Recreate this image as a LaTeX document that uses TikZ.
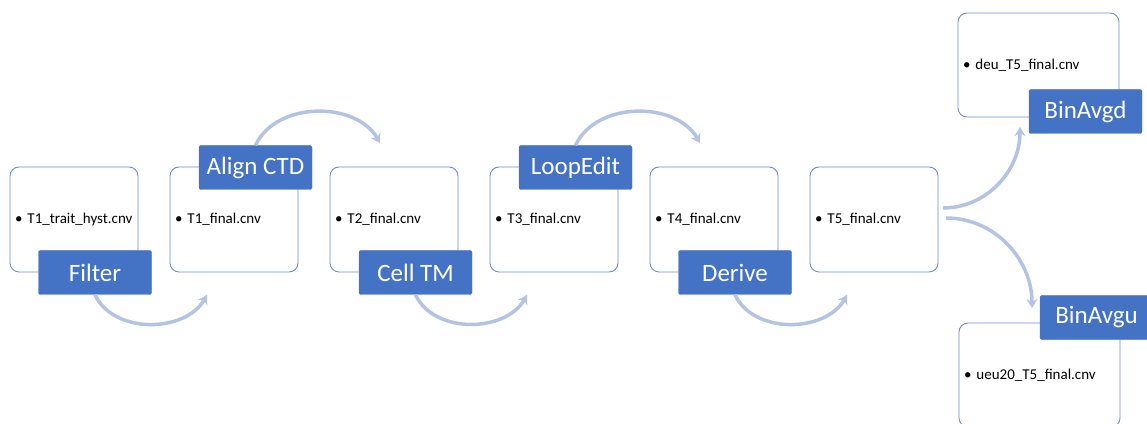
\documentclass[tikz,border=0pt]{standalone}
\usepackage{fontspec}
\setmainfont{Carlito}
\usetikzlibrary{arrows.meta}
\definecolor{stepBlue}{HTML}{4472C4}
\definecolor{boxLine}{RGB}{114,142,200}
\definecolor{flowGray}{RGB}{180,195,226}

\begin{document}
\begin{tikzpicture}[x=1pt, y=1pt,
	fileBox/.style={rectangle, draw=boxLine, line width=0.9pt, fill=white, rounded corners=9pt, minimum height=105pt, text width=118pt, inner xsep=5pt, align=left, font=\fontsize{15}{18}\selectfont},
	wideBox/.style={fileBox, minimum height=104pt, text width=151pt},
	stepLabel/.style={rectangle, draw=stepBlue, fill=stepBlue, rounded corners=2pt, minimum width=113pt, minimum height=44pt, inner sep=0pt, text=white, font=\fontsize{25}{30}\selectfont},
	flow/.style={draw=flowGray, line width=3.5pt, -{Stealth[length=9pt, width=11pt, inset=3pt]}}]
	\useasboundingbox (0,0) rectangle (1147,423);

	% file boxes along the row
	\node[fileBox](file1) at (74,203.5){\textbullet\ T1\_trait\_hyst.cnv};
	\node[fileBox](file2) at (234,203.5){\textbullet\ T1\_final.cnv};
	\node[fileBox](file3) at (394,203.5){\textbullet\ T2\_final.cnv};
	\node[fileBox](file4) at (554,203.5){\textbullet\ T3\_final.cnv};
	\node[fileBox](file5) at (714,203.5){\textbullet\ T4\_final.cnv};
	\node[fileBox](file6) at (874,203.5){\textbullet\ T5\_final.cnv};

	% split outputs
	\node[wideBox](fileD) at (1038.5,358){\textbullet\ deu\_T5\_final.cnv};
	\node[wideBox](fileU) at (1039.5,48){\textbullet\ ueu20\_T5\_final.cnv};

	% arrow ends
	\coordinate(in2) at (207,128);
	\coordinate(in3) at (380,280);
	\coordinate(in4) at (527,128);
	\coordinate(in5) at (700,280);
	\coordinate(in6) at (847,128);
	\coordinate(outD) at (943,215);
	\coordinate(outU) at (946,205);
	\coordinate(inD) at (1020,296);
	\coordinate(inU) at (1032,115);

	% step labels
	\node[stepLabel](filter) at (95,150.5){Filter};
	\node[stepLabel](alignCTD) at (255.5,255.5){Align CTD};
	\node[stepLabel](cellTM) at (415.5,150.5){Cell TM};
	\node[stepLabel](loopEdit) at (575.5,255.5){LoopEdit};
	\node[stepLabel](derive) at (735,150.5){Derive};
	\node[stepLabel](binAvgd) at (1085.5,311.5){BinAvgd};
	\node[stepLabel](binAvgu) at (1096.5,105.5){BinAvgu};

	% curved arrows
	\draw[flow] (filter.south) to[out=-65, in=-120] (in2);
	\draw[flow] (alignCTD.north) to[out=65, in=120] (in3);
	\draw[flow] (cellTM.south) to[out=-65, in=-120] (in4);
	\draw[flow] (loopEdit.north) to[out=65, in=120] (in5);
	\draw[flow] (derive.south) to[out=-65, in=-120] (in6);
	\draw[flow] (outD) to[out=0, in=-90] (inD);
	\draw[flow] (outU) to[out=0, in=90] (inU);
\end{tikzpicture}
\end{document}
